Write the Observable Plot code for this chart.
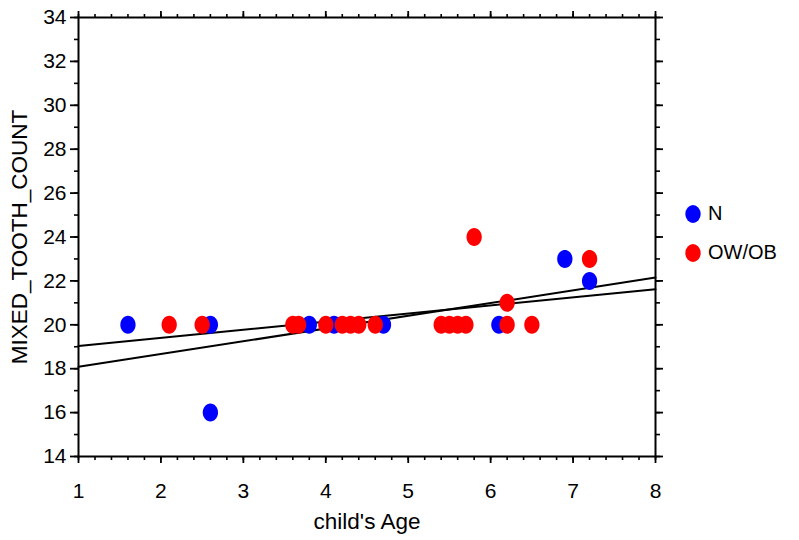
<!DOCTYPE html>
<html>
<head>
<meta charset="utf-8">
<script src="https://cdn.jsdelivr.net/npm/d3@7"></script>
<script src="https://cdn.jsdelivr.net/npm/@observablehq/plot@0.6"></script>
<style>
  html, body { margin: 0; padding: 0; background: #fff; }
  #wrap { position: relative; width: 799px; height: 540px; font-family: "Liberation Sans", Arial, sans-serif; }
  #legend { position: absolute; left: 684px; top: 194px; font-size: 20px; color: #000; }
  .item { display: flex; align-items: center; height: 39px; }
  .item svg { margin-right: 6px; }
  #wrap svg g[aria-label="x-axis label"] text, #wrap svg g[aria-label="y-axis label"] text { font-size: 22.5px; }
</style>
</head>
<body>
<div id="wrap"><div id="legend"></div></div>
<script>
// ---- data ----
const groups = ["N", "OW/OB"];
const groupColors = ["#0000ff", "#ff0000"];

const ageN   = [1.6, 2.6, 2.6, 3.8, 4.1, 4.7, 6.1, 6.9, 7.2];
const teethN = [20,  20,  16,  20,  20,  20,  20,  23,  22];

const ageOW   = [2.1, 2.5, 3.6, 3.67, 4.0, 4.2, 4.3, 4.4, 4.6, 5.4, 5.5, 5.6, 5.7, 5.8, 6.2, 6.2, 6.5, 7.2];
const teethOW = [20,  20,  20,  20,   20,  20,  20,  20,  20,  20,  20,  20,  20,  24,  21,  20,  20,  23];

// fitted regression lines (end values read at age 1 and 8)
const fitAge = [1, 8];
const fitN   = [18.09, 22.15];
const fitOW  = [19.03, 21.62];

const xTicks = [1, 2, 3, 4, 5, 6, 7, 8];
const yTicks = [14, 16, 18, 20, 22, 24, 26, 28, 30, 32, 34];
const xMinor = d3.range(10, 81, 2).map(d => d / 10);
const yMinor = d3.range(14, 35, 1);

// ---- tables ----
const dataN  = ageN.map((a, i) => ({age: a, teeth: teethN[i], group: groups[0]}));
const dataOW = ageOW.map((a, i) => ({age: a, teeth: teethOW[i], group: groups[1]}));
const lineN  = fitAge.map((a, i) => ({age: a, teeth: fitN[i]}));
const lineOW = fitAge.map((a, i) => ({age: a, teeth: fitOW[i]}));

// slightly tall ellipse marker
const ellipse = {
  draw(ctx, size) {
    const r = Math.sqrt(size / Math.PI);
    const rx = r * 0.85, ry = r, k = 0.5523;
    ctx.moveTo(rx, 0);
    ctx.bezierCurveTo(rx, ry * k, rx * k, ry, 0, ry);
    ctx.bezierCurveTo(-rx * k, ry, -rx, ry * k, -rx, 0);
    ctx.bezierCurveTo(-rx, -ry * k, -rx * k, -ry, 0, -ry);
    ctx.bezierCurveTo(rx * k, -ry, rx, -ry * k, rx, 0);
    ctx.closePath();
  }
};

const chart = Plot.plot({
  width: 799,
  height: 540,
  marginLeft: 78,
  marginRight: 144,
  marginTop: 17,
  marginBottom: 84,
  style: {fontFamily: '"Liberation Sans", Arial, sans-serif', fontSize: "21px", color: "#000", background: "#fff", overflow: "visible"},
  x: {domain: [1, 8]},
  y: {domain: [14, 34]},
  marks: [
    Plot.line(lineN,  {x: "age", y: "teeth", stroke: "#000", strokeWidth: 2}),
    Plot.line(lineOW, {x: "age", y: "teeth", stroke: "#000", strokeWidth: 2}),
    Plot.dot(dataN,  {x: "age", y: "teeth", fill: groupColors[0], r: 9, symbol: ellipse}),
    Plot.dot(dataOW, {x: "age", y: "teeth", fill: groupColors[1], r: 9, symbol: ellipse}),
    Plot.frame({stroke: "#000", strokeWidth: 2}),
    // bottom axis
    Plot.axisX({ticks: xMinor, tickSize: 4, text: null, label: null, strokeWidth: 1.6}),
    Plot.axisX({ticks: xTicks, tickSize: 7, tickPadding: 20, tickFormat: d => d, strokeWidth: 1.8,
      label: "child's Age", labelAnchor: "center", labelArrow: "none", labelOffset: 72}),
    // top axis
    Plot.axisX({anchor: "top", ticks: xMinor, tickSize: 4, text: null, label: null, strokeWidth: 1.6}),
    Plot.axisX({anchor: "top", ticks: xTicks, tickSize: 7, text: null, label: null, strokeWidth: 1.8}),
    // left axis
    Plot.axisY({ticks: yMinor, tickSize: 4, text: null, label: null, strokeWidth: 1.6}),
    Plot.axisY({ticks: yTicks, tickSize: 8, tickPadding: 4, tickFormat: d => d, strokeWidth: 1.8,
      label: "MIXED_TOOTH_COUNT", labelAnchor: "center", labelArrow: "none", labelOffset: 67}),
    // right axis
    Plot.axisY({anchor: "right", ticks: yMinor, tickSize: 4, text: null, label: null, strokeWidth: 1.6}),
    Plot.axisY({anchor: "right", ticks: yTicks, tickSize: 7, text: null, label: null, strokeWidth: 1.8})
  ]
});
const wrap = document.getElementById("wrap");
wrap.insertBefore(chart, wrap.firstChild);

// legend
const legend = d3.select("#legend");
groups.forEach((g, i) => {
  const item = legend.append("div").attr("class", "item");
  const s = item.append("svg").attr("width", 18).attr("height", 20);
  s.append("ellipse").attr("cx", 9).attr("cy", 10).attr("rx", 7.7).attr("ry", 9).attr("fill", groupColors[i]);
  item.append("span").text(g);
});
</script>
</body>
</html>
